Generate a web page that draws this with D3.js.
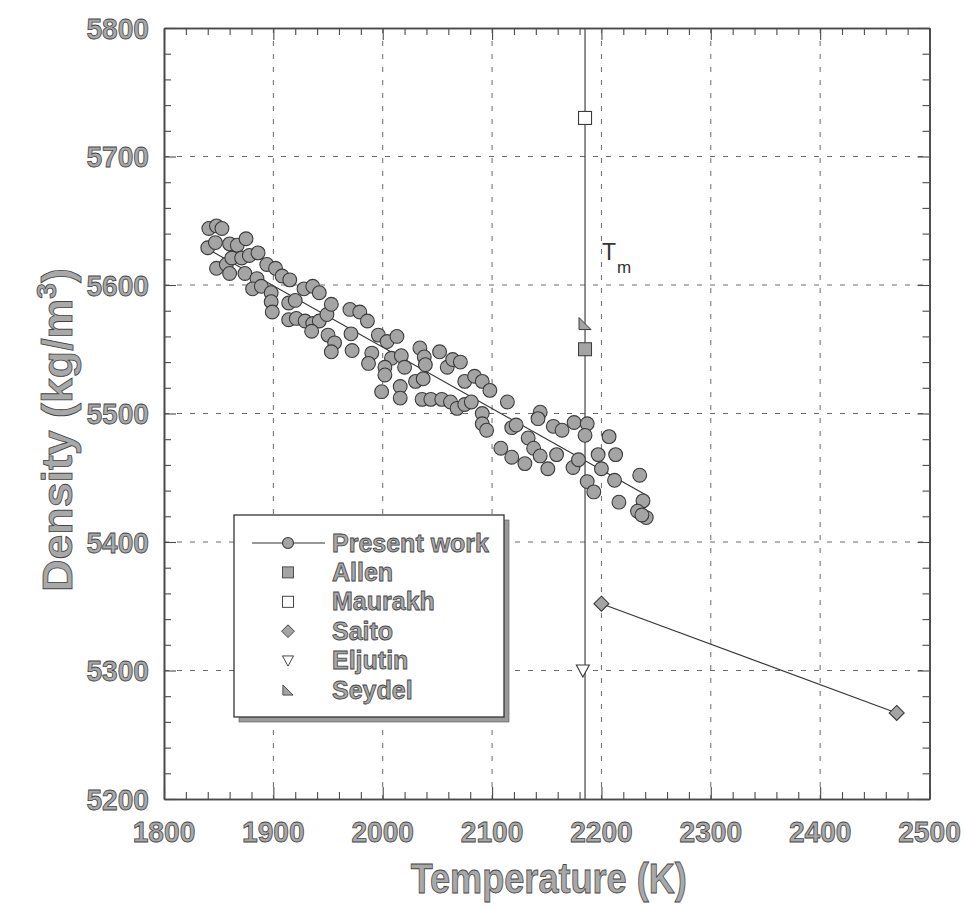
<!DOCTYPE html>
<html>
<head>
<meta charset="utf-8">
<script src="https://cdn.jsdelivr.net/npm/d3@7"></script>
<style>
  html, body { margin: 0; padding: 0; background: #fff; }
  svg { display: block; }
</style>
</head>
<body>
<svg id="chart" width="964" height="909"></svg>
<script>
// ---- data ----
// Present work: measured density of the liquid vs temperature
const presentT = [
  1841,1848,1853,1840,1847,1860,1867,1875,1848,1857,1860,1862,1871,1878,1886,1874,
  1894,1902,1908,1915,1885,1881,1889,1898,1898,1899,1928,1936,1942,1914,1920,1914,
  1921,1929,1936,1942,1949,1953,1935,1950,1956,1953,1970,1971,1972,
  1979,1986,1990,1987,1996,2004,2013,2008,2017,2002,2002,2020,1999,2016,2016,2034,
  2038,2039,2030,2037,2052,2059,2064,2071,2036,2044,2054,2062,2068,2075,2081,2075,
  2084,2091,2098,2091,2091,2095,
  2114,2144,2142,2118,2122,2133,2138,2144,2156,2164,2175,2187,2185,2108,2118,2130,
  2151,2159,2174,2179,2187,2193,2207,2197,2200,2213,2212,2216,2235,2238,2233,2241,2237
];
const presentD = [
  5644,5646,5644,5629,5633,5632,5631,5636,5613,5616,5609,5621,5621,5623,5625,5609,
  5616,5613,5607,5604,5605,5597,5599,5594,5587,5579,5597,5599,5594,5586,5588,5573,
  5574,5572,5570,5572,5577,5585,5564,5561,5555,5548,5581,5562,5549,
  5579,5572,5547,5539,5561,5556,5560,5543,5545,5536,5530,5536,5517,5521,5512,5551,
  5544,5538,5525,5527,5548,5536,5542,5540,5511,5511,5511,5509,5504,5507,5509,5525,
  5529,5525,5518,5500,5492,5487,
  5509,5501,5496,5489,5491,5481,5473,5467,5490,5487,5493,5492,5483,5473,5466,5461,
  5457,5468,5458,5464,5447,5439,5482,5468,5457,5468,5448,5431,5452,5432,5424,5419,5421
];
// linear fit through the present work
const fitT = [1840, 2240];
const fitD = [5628, 5437];

// literature values
const allenT = [2185],   allenD = [5550];
const maurakhT = [2185], maurakhD = [5730];
const saitoT = [2200, 2470], saitoD = [5352, 5267];
const eljutinT = [2183], eljutinD = [5300];
const seydelT = [2185],  seydelD = [5570];

// melting point
const meltT = 2185;

const xTicks = [1800, 1900, 2000, 2100, 2200, 2300, 2400, 2500];
const yTicks = [5200, 5300, 5400, 5500, 5600, 5700, 5800];
const legendLabels = ["Present work", "Allen", "Maurakh", "Saito", "Eljutin", "Seydel"];

// ---- layout ----
const svg = d3.select("#chart");
const pLeft = 164, pRight = 929.5, pTop = 28, pBottom = 799;
const x = d3.scaleLinear().domain([1800, 2500]).range([pLeft, pRight]);
const y = d3.scaleLinear().domain([5200, 5800]).range([pBottom, pTop]);

const FONT = "'Liberation Sans', Arial, Helvetica, sans-serif";
const TEXT_FILL = "#a8a8a8", TEXT_STROKE = "#444";
const MARK_FILL = "#a4a4a4", MARK_STROKE = "#3a3a3a";
const FRAME = "#4a4a4a";

function outlinedText(g, px, py, str, size, anchor, sx, rot) {
  const t = g.append("text")
    .attr("transform", `translate(${px},${py})` + (rot ? ` rotate(${rot})` : "") + ` scale(${sx},1)`)
    .attr("text-anchor", anchor)
    .attr("font-family", FONT)
    .attr("font-weight", "bold")
    .attr("font-size", size)
    .attr("fill", TEXT_FILL)
    .attr("stroke", TEXT_STROKE)
    .attr("stroke-width", 0.8)
    .text(str);
  return t;
}

// ---- grid ----
const grid = svg.append("g").attr("stroke", "#6a6a6a").attr("stroke-width", 1)
  .attr("stroke-dasharray", "5,8").attr("fill", "none");
xTicks.slice(1, -1).forEach(v => {
  grid.append("line").attr("x1", x(v)).attr("x2", x(v)).attr("y1", pTop).attr("y2", pBottom);
});
yTicks.slice(1, -1).forEach(v => {
  grid.append("line").attr("x1", pLeft).attr("x2", pRight).attr("y1", y(v)).attr("y2", y(v));
});

// ---- axes (ticks pointing inward on all four sides) ----
const xMinor = d3.range(1800, 2501, 20).filter(v => v % 100 !== 0);
const yMinor = d3.range(5200, 5801, 20).filter(v => v % 100 !== 0);

function styleAxis(g) {
  g.selectAll(".domain").attr("stroke", FRAME).attr("stroke-width", 1.6);
  g.selectAll(".tick line").attr("stroke", FRAME).attr("stroke-width", 1.1);
  g.selectAll(".tick text").remove();
}
function addAxis(axisFn, scale, transform, values, size) {
  const g = svg.append("g").attr("transform", transform)
    .call(axisFn(scale).tickValues(values).tickSize(size).tickSizeOuter(0).tickFormat(""));
  styleAxis(g);
  return g;
}
addAxis(d3.axisBottom, x, `translate(0,${pBottom})`, xMinor, -7);
addAxis(d3.axisBottom, x, `translate(0,${pBottom})`, xTicks, -12);
addAxis(d3.axisTop, x, `translate(0,${pTop})`, xMinor, -7);
addAxis(d3.axisTop, x, `translate(0,${pTop})`, xTicks, -12);
addAxis(d3.axisLeft, y, `translate(${pLeft},0)`, yMinor, -7);
addAxis(d3.axisLeft, y, `translate(${pLeft},0)`, yTicks, -12);
addAxis(d3.axisRight, y, `translate(${pRight},0)`, yMinor, -7);
addAxis(d3.axisRight, y, `translate(${pRight},0)`, yTicks, -12);

// tick labels
const labels = svg.append("g");
xTicks.forEach(v => outlinedText(labels, x(v), 842, String(v), 29, "middle", 0.97));
yTicks.forEach(v => outlinedText(labels, 149, y(v) + 10.5, String(v), 29, "end", 0.97));

// axis titles
outlinedText(labels, (pLeft + pRight) / 2 + 2, 893, "Temperature (K)", 42, "middle", 0.86);
const yt = outlinedText(labels, 72, 430, "Density (kg/m", 43, "middle", 1.04, -90);
yt.append("tspan").attr("dy", -16).attr("font-size", 27).text("3");
yt.append("tspan").attr("dy", 16).text(")");

// ---- melting point line ----
svg.append("line")
  .attr("x1", x(meltT)).attr("x2", x(meltT)).attr("y1", pTop).attr("y2", pBottom)
  .attr("stroke", "#444").attr("stroke-width", 1.2);
const tm = svg.append("text").attr("x", 602).attr("y", 260)
  .attr("font-family", FONT).attr("font-size", 23).attr("fill", "#333").text("T");
tm.append("tspan").attr("dy", 13).attr("dx", 1).attr("font-size", 17).text("m");

// ---- present work ----
svg.append("line")
  .attr("x1", x(fitT[0])).attr("y1", y(fitD[0]))
  .attr("x2", x(fitT[1])).attr("y2", y(fitD[1]))
  .attr("stroke", "#333").attr("stroke-width", 1.1);

const pts = presentT.map((t, i) => ({ t, d: presentD[i] }));
svg.append("g").selectAll("circle").data(pts).join("circle")
  .attr("cx", p => x(p.t)).attr("cy", p => y(p.d)).attr("r", 6.9)
  .attr("fill", MARK_FILL).attr("stroke", MARK_STROKE).attr("stroke-width", 1.1);

// ---- literature symbols ----
const sym = {
  filledSquare: (g) => g.append("rect").attr("x", -6.5).attr("y", -6.5).attr("width", 13).attr("height", 13)
      .attr("fill", MARK_FILL).attr("stroke", MARK_STROKE).attr("stroke-width", 1),
  openSquare: (g) => g.append("rect").attr("x", -6.5).attr("y", -6.5).attr("width", 13).attr("height", 13)
      .attr("fill", "#fff").attr("stroke", MARK_STROKE).attr("stroke-width", 1.1),
  diamond: (g) => g.append("path").attr("d", "M0,-7.5L7.5,0L0,7.5L-7.5,0Z")
      .attr("fill", MARK_FILL).attr("stroke", MARK_STROKE).attr("stroke-width", 1.1),
  downTri: (g) => g.append("path").attr("d", "M-6.5,-5.5L6.5,-5.5L0,6.5Z")
      .attr("fill", "#fff").attr("stroke", MARK_STROKE).attr("stroke-width", 1.1),
  cornerTri: (g) => g.append("path").attr("d", "M-6,-6L-6,6L6,6Z")
      .attr("fill", MARK_FILL).attr("stroke", MARK_STROKE).attr("stroke-width", 1),
  circle: (g) => g.append("circle").attr("r", 6.3)
      .attr("fill", MARK_FILL).attr("stroke", MARK_STROKE).attr("stroke-width", 1.1)
};

// Saito line
svg.append("path")
  .attr("d", d3.line().x((t) => x(t)).y((t, i) => y(saitoD[i]))(saitoT))
  .attr("fill", "none").attr("stroke", "#333").attr("stroke-width", 1.1);

function plotSymbols(ts, ds, kind) {
  ts.forEach((t, i) => {
    const g = svg.append("g").attr("transform", `translate(${x(t)},${y(ds[i])})`);
    sym[kind](g);
  });
}
plotSymbols(maurakhT, maurakhD, "openSquare");
plotSymbols(allenT, allenD, "filledSquare");
plotSymbols(seydelT, seydelD, "cornerTri");
plotSymbols(eljutinT, eljutinD, "downTri");
plotSymbols(saitoT, saitoD, "diamond");

// ---- legend ----
const lg = svg.append("g");
const bx = 234, by = 515, bw = 270, bh = 202;
lg.append("rect").attr("x", bx + 5).attr("y", by + 5).attr("width", bw).attr("height", bh)
  .attr("fill", "#9a9a9a").attr("stroke", "#555").attr("stroke-width", 0.6);
lg.append("rect").attr("x", bx).attr("y", by).attr("width", bw).attr("height", bh)
  .attr("fill", "#fff").attr("stroke", "#333").attr("stroke-width", 1.3);

const legendKinds = ["circle", "filledSquare", "openSquare", "diamond", "downTri", "cornerTri"];
const rowY = d3.scaleLinear().domain([0, 5]).range([543, 690]);
legendLabels.forEach((name, i) => {
  const cy = rowY(i);
  if (i === 0) {
    lg.append("line").attr("x1", 252).attr("x2", 325).attr("y1", cy).attr("y2", cy)
      .attr("stroke", "#333").attr("stroke-width", 1.1);
  }
  const g = lg.append("g").attr("transform", `translate(288,${cy})`);
  sym[legendKinds[i]](g);
  if (i === 0) g.select("circle").attr("r", 5.5);
  else g.attr("transform", `translate(288,${cy}) scale(0.85)`);
  outlinedText(lg, 332, cy + 8.5, name, 25, "start", 1.0);
});
</script>
</body>
</html>
